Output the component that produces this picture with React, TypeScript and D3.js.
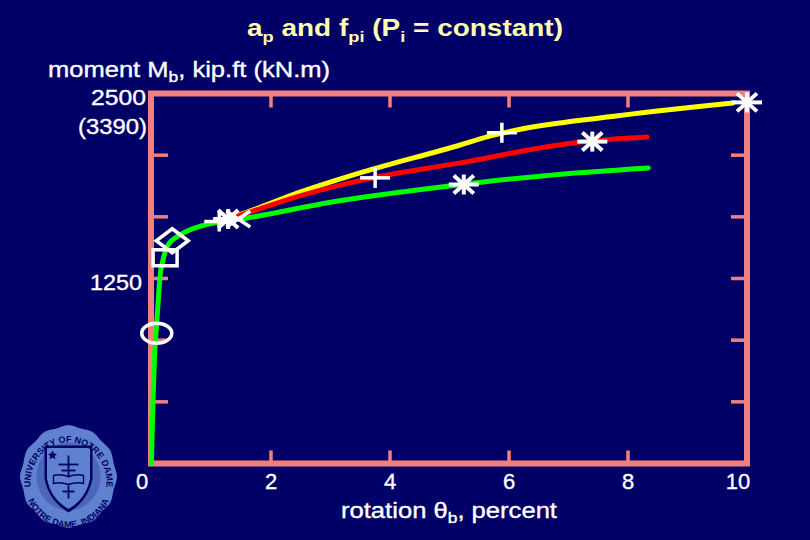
import React from "react";
import * as d3 from "d3";

const xTicks = [0, 2, 4, 6, 8, 10];
const yTicks = [0, 416.7, 833.3, 1250, 1666.7, 2083.3, 2500];
const greenSeries: [number, number][] = [
  [-0.01, 0], [0.017, 429], [0.042, 720], [0.067, 882], [0.10, 1071], [0.134, 1260], [0.185, 1375], [0.27, 1476],
  [0.47, 1544], [0.89, 1612], [1.31, 1642], [1.6, 1659], [3.0, 1765], [5.0, 1875], [6.6, 1945], [8.34, 1997],
];
const redSeries: [number, number][] = [
  [1.31, 1655], [1.6, 1693], [2.5, 1810], [3.55, 1916], [5.18, 2031], [7.08, 2166], [7.7, 2190], [8.32, 2206],
];
const yellowSeries: [number, number][] = [
  [1.31, 1660], [1.51, 1686], [2.5, 1835], [3.55, 1970], [5.18, 2152], [5.63, 2207], [6.13, 2253],
  [7.65, 2341], [9.76, 2436],
];
const ellipseMark: [number, number] = [0.08, 880];
const squareMark: [number, number] = [0.22, 1390];
const diamondMark: [number, number] = [0.34, 1505];
const plusMarks: [number, number][] = [[1.13, 1635], [3.75, 1930], [5.88, 2235]];
const crossMarks: [number, number][] = [[1.45, 1652]];
const starMarks: [number, number][] = [[1.28, 1652], [5.24, 1885], [7.4, 2175], [10, 2440]];

const W = 810, H = 540;
const x = d3.scaleLinear().domain([0, 10]).range([152, 747]);
const y = d3.scaleLinear().domain([0, 2500]).range([463.5, 93.5]);
const line = d3.line<[number, number]>().x(d => x(d[0])).y(d => y(d[1])).curve(d3.curveMonotoneX);

const BG = "#000066", FRAME = "#f08080", SEAL = "#6080d0";
const FONT = "'Liberation Sans', Arial, sans-serif";

function Star({ p }: { p: [number, number] }) {
  const cx = x(p[0]), cy = y(p[1]);
  return <g stroke="#fff" strokeWidth={4} fill="none">
    <line x1={cx - 15} x2={cx + 15} y1={cy} y2={cy} />
    <line x1={cx} x2={cx} y1={cy - 10} y2={cy + 10} />
    <line x1={cx - 10} x2={cx + 10} y1={cy - 9} y2={cy + 9} />
    <line x1={cx - 10} x2={cx + 10} y1={cy + 9} y2={cy - 9} />
  </g>;
}

function Seal() {
  const cx = 68.5, cy = 476.5;
  const scallop = d3.range(0, 24).map(i => {
    const a = (i / 24) * Math.PI * 2;
    const k = i % 2 ? 0.965 : 1;
    return [cx + 48.5 * k * Math.cos(a), cy + 51.5 * k * Math.sin(a)] as [number, number];
  });
  const edge = d3.line().curve(d3.curveCardinalClosed)(scallop) || "";
  return <g>
    <path d={edge} fill={SEAL} />
    <ellipse cx={cx} cy={cy} rx={32} ry={34} fill="#4a67b8" />
    <path d={`M${cx - 24},${cy - 31} L${cx + 24},${cy - 31} L${cx + 24},${cy + 2} Q${cx + 20},${cy + 24} ${cx},${cy + 36} Q${cx - 20},${cy + 24} ${cx - 24},${cy + 2} Z`} fill={BG} />
    <path d={`M${cx - 21.5},${cy - 28.5} L${cx + 21.5},${cy - 28.5} L${cx + 21.5},${cy + 2} Q${cx + 18},${cy + 22} ${cx},${cy + 32.5} Q${cx - 18},${cy + 22} ${cx - 21.5},${cy + 2} Z`} fill={SEAL} />
    <g stroke={BG} strokeWidth={1.8} fill="none">
      <line x1={cx} x2={cx} y1={cy - 21} y2={cy + 1} />
      <line x1={cx - 10} x2={cx + 10} y1={cy - 12} y2={cy - 12} />
      <line x1={cx - 7} x2={cx + 7} y1={cy - 6} y2={cy - 6} />
      <line x1={cx} x2={cx} y1={cy + 9} y2={cy + 22} />
      <line x1={cx - 6} x2={cx + 6} y1={cy + 15} y2={cy + 15} />
    </g>
    <path d={`M${cx - 15},${cy - 1} Q${cx - 8},${cy - 3} ${cx},${cy} Q${cx + 8},${cy - 3} ${cx + 15},${cy - 1} L${cx + 15},${cy + 7} Q${cx + 8},${cy + 5} ${cx},${cy + 8} Q${cx - 8},${cy + 5} ${cx - 15},${cy + 7} Z`} fill="none" stroke={BG} strokeWidth={1.4} />
    <path d={`M${cx - 16},${cy - 26} l1.5,3 3,.5 -2.3,2 .8,3.2 -3,-1.7 -3,1.7 .8,-3.2 -2.3,-2 3,-.5 Z`} fill={BG} />
    <defs>
      <path id="sealTop" d={`M${cx - 37},${cy + 16} A38,41 0 1 1 ${cx + 37},${cy + 16}`} />
      <path id="sealBot" d={`M${cx - 45},${cy + 4} A45,47 0 0 0 ${cx + 45},${cy + 4}`} />
    </defs>
    <text fontFamily={FONT} fontSize={9} fontWeight="bold" fill={BG}>
      <textPath href="#sealTop" startOffset="50%" textAnchor="middle">UNIVERSITY OF NOTRE DAME</textPath>
    </text>
    <text fontFamily={FONT} fontSize={9} fontWeight="bold" fill={BG}>
      <textPath href="#sealBot" startOffset="50%" textAnchor="middle">NOTRE DAME, INDIANA</textPath>
    </text>
  </g>;
}

export default function App() {
  const [x0, x1] = x.range();
  const [y0, y1] = y.range();
  const dp = diamondMark, sq = squareMark, el = ellipseMark;
  const stretch = (w: number) => ({ textLength: w, lengthAdjust: "spacingAndGlyphs" as const });
  return (
    <svg width={W} height={H} viewBox={`0 0 ${W} ${H}`} style={{ position: "fixed", left: 0, top: 0, display: "block" }}>
      <rect width={W} height={H} fill={BG} />
      <Seal />
      <text x={247} y={36} fontFamily={FONT} fontWeight="bold" fontSize={23} fill="#ffffb0" {...stretch(316)}>
        a<tspan fontSize={15} dy={6}>p</tspan><tspan dy={-6}> and f</tspan><tspan fontSize={15} dy={6}>pi</tspan><tspan dy={-6}> (P</tspan><tspan fontSize={15} dy={6}>i</tspan><tspan dy={-6}> = constant)</tspan>
      </text>
      <g fontFamily={FONT} fontSize={22} fill="#fff" stroke="#fff" strokeWidth={0.35}>
        <text x={48} y={77} {...stretch(282)}>moment M<tspan fontSize={15} dy={5}>b</tspan><tspan dy={-5}>, kip.ft (kN.m)</tspan></text>
        <text x={91} y={105} {...stretch(55)}>2500</text>
        <text x={78} y={134} {...stretch(69)}>(3390)</text>
        <text x={90} y={290} {...stretch(52)}>1250</text>
        {xTicks.map(t => <text key={t} x={t === 0 ? x(t) - 10 : x(t) + (t === 10 ? -9 : 0)} y={489} textAnchor="middle">{t}</text>)}
        <text x={341} y={518} {...stretch(216)}>rotation θ<tspan fontSize={15} dy={5}>b</tspan><tspan dy={-5}>, percent</tspan></text>
      </g>
      <rect x={x0 - 1} y={y1} width={x1 - x0 + 1} height={y0 - y1} fill="none" stroke={FRAME} strokeWidth={6} />
      <g stroke={FRAME} strokeWidth={3.5}>
        {xTicks.slice(1, -1).flatMap(t => [
          <line key={`t${t}`} x1={x(t)} x2={x(t)} y1={y1} y2={y1 + 14} />,
          <line key={`b${t}`} x1={x(t)} x2={x(t)} y1={y0} y2={y0 - 13} />,
        ])}
        {yTicks.slice(1, -1).flatMap(t => [
          <line key={`l${t}`} x1={x0} x2={x0 + 16} y1={y(t)} y2={y(t)} />,
          <line key={`r${t}`} x1={x1} x2={x1 - 16} y1={y(t)} y2={y(t)} />,
        ])}
      </g>
      <g fill="none" strokeWidth={5} strokeLinecap="round">
        <path d={line(yellowSeries) || ""} stroke="#ffff00" />
        <path d={line(redSeries) || ""} stroke="#ff0000" />
        <path d={line(greenSeries) || ""} stroke="#00ff00" />
      </g>
      <g fill="none" stroke="#fff" strokeWidth={3.5}>
        <ellipse cx={x(el[0])} cy={y(el[1])} rx={15} ry={10} />
        <rect x={x(sq[0]) - 12} y={y(sq[1]) - 8} width={24} height={16} />
        <path d={`M${x(dp[0])},${y(dp[1]) - 12} L${x(dp[0]) + 16},${y(dp[1])} L${x(dp[0])},${y(dp[1]) + 12} L${x(dp[0]) - 16},${y(dp[1])} Z`} />
        {plusMarks.map((p, i) => <g key={i}>
          <line x1={x(p[0]) - 15} x2={x(p[0]) + 15} y1={y(p[1])} y2={y(p[1])} />
          <line x1={x(p[0])} x2={x(p[0])} y1={y(p[1]) - 10} y2={y(p[1]) + 10} />
        </g>)}
        {crossMarks.map((p, i) => <g key={i}>
          <line x1={x(p[0]) - 12} x2={x(p[0]) + 12} y1={y(p[1]) - 8} y2={y(p[1]) + 8} />
          <line x1={x(p[0]) - 12} x2={x(p[0]) + 12} y1={y(p[1]) + 8} y2={y(p[1]) - 8} />
        </g>)}
      </g>
      {starMarks.map((p, i) => <Star key={i} p={p} />)}
    </svg>
  );
}
